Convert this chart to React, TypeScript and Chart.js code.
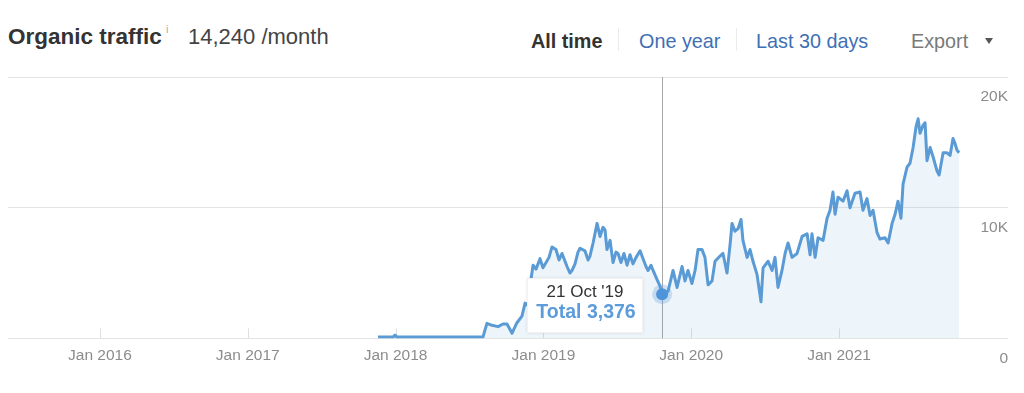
import React, { useEffect, useRef } from "react";
import { Chart, registerables } from "chart.js";

Chart.register(...registerables);

// ---- data (x = decimal year, y = monthly organic traffic) ----
const dateYears = [
  2017.881, 2017.982, 2017.996, 2018.009, 2018.591, 2018.618, 2018.652, 2018.693, 2018.727, 2018.754,
  2018.788, 2018.821, 2018.855, 2018.876, 2018.896, 2018.916, 2018.930, 2018.950, 2018.977, 2018.997,
  2019.018, 2019.038, 2019.058, 2019.085, 2019.106, 2019.126, 2019.160, 2019.180, 2019.194, 2019.214,
  2019.234, 2019.248, 2019.281, 2019.302, 2019.315, 2019.336, 2019.363, 2019.383, 2019.403, 2019.417,
  2019.430, 2019.451, 2019.471, 2019.491, 2019.505, 2019.525, 2019.545, 2019.566, 2019.586, 2019.606,
  2019.627, 2019.654, 2019.674, 2019.694, 2019.708, 2019.728, 2019.742, 2019.769, 2019.789, 2019.803,
  2019.843, 2019.877, 2019.904, 2019.938, 2019.958, 2019.978, 2020.005, 2020.026, 2020.046, 2020.073,
  2020.093, 2020.114, 2020.141, 2020.161, 2020.195, 2020.215, 2020.242, 2020.263, 2020.276, 2020.296,
  2020.317, 2020.337, 2020.350, 2020.378, 2020.398, 2020.418, 2020.445, 2020.472, 2020.486, 2020.520,
  2020.547, 2020.567, 2020.587, 2020.614, 2020.635, 2020.655, 2020.682, 2020.716, 2020.750, 2020.784,
  2020.804, 2020.817, 2020.838, 2020.858, 2020.892, 2020.919, 2020.939, 2020.959, 2020.973, 2020.993,
  2021.027, 2021.054, 2021.074, 2021.108, 2021.142, 2021.162, 2021.189, 2021.210, 2021.230, 2021.257,
  2021.277, 2021.311, 2021.332, 2021.359, 2021.379, 2021.399, 2021.419, 2021.433, 2021.460, 2021.480,
  2021.501, 2021.521, 2021.535, 2021.548, 2021.568, 2021.582, 2021.595, 2021.616, 2021.636, 2021.663,
  2021.677, 2021.704, 2021.731, 2021.751, 2021.771, 2021.785, 2021.798, 2021.812,
];

const trafficValues = [
  100, 100, 250, 100, 100, 1150, 1000, 900, 1100, 1100,
  400, 1200, 1700, 2700, 2500, 4500, 5600, 5300, 6100, 5400,
  5800, 6200, 7000, 6800, 6000, 6500, 5500, 5000, 5200, 5700,
  6600, 6900, 6700, 6000, 6300, 7300, 8800, 7800, 8500, 8300,
  6800, 7500, 5800, 6600, 6500, 5800, 6500, 5600, 6400, 5700,
  6200, 6700, 6100, 5500, 5200, 5600, 5200, 4500, 4000, 3376,
  3600, 5200, 3900, 5500, 4400, 5200, 4200, 5200, 6800, 6800,
  6200, 4100, 4400, 5900, 6300, 6500, 5000, 7200, 8800, 8200,
  8400, 9100, 7500, 6200, 6800, 5900, 4900, 2800, 5400, 5900,
  5200, 6200, 3900, 5200, 6500, 7300, 6200, 6500, 7800, 8000,
  6400, 8000, 6200, 7700, 7500, 9200, 9800, 11200, 9500, 10800,
  10500, 11300, 10000, 11100, 11200, 9800, 10700, 9400, 9800, 8100,
  7600, 7700, 7300, 8800, 9500, 10500, 9200, 11800, 13100, 13400,
  14600, 16200, 16800, 15700, 16300, 16500, 13600, 14600, 13900, 12800,
  12500, 14200, 14200, 14000, 15300, 14900, 14400, 14200,
];

const xAxisRange = [2015.378, 2022.143];
const xTickYears = [2016, 2017, 2018, 2019, 2020, 2021];
const xTickLabels = ["Jan 2016", "Jan 2017", "Jan 2018", "Jan 2019", "Jan 2020", "Jan 2021"];
const yTickValues = [0, 10000, 20000];
const yTickLabels = ["0", "10K", "20K"];

const tooltipYear = 2019.803;
const tooltipDateLabel = "21 Oct '19";
const tooltipValue = 3376;

const headerTitle = "Organic traffic";
const headerValue = "14,240 /month";
const navActive = "All time";
const navLinks = ["One year", "Last 30 days"];
const exportLabel = "Export";

const FONT = "'Liberation Sans', Arial, Helvetica, sans-serif";
const LINE_COLOR = "#5b9bd5";

const overlayPlugin = {
  id: "overlay",
  beforeDatasetsDraw(chart: any) {
    const { ctx, chartArea, scales } = chart;
    const xs = scales.x;
    ctx.save();
    ctx.lineWidth = 1;
    ctx.strokeStyle = "#e0e0e0";
    xTickYears.forEach((v) => {
      const px = Math.round(xs.getPixelForValue(v)) + 0.5;
      ctx.beginPath();
      ctx.moveTo(px, chartArea.bottom - 10);
      ctx.lineTo(px, chartArea.bottom);
      ctx.stroke();
    });
    const cx = Math.round(xs.getPixelForValue(tooltipYear)) + 0.5;
    ctx.strokeStyle = "#a8a8a8";
    ctx.beginPath();
    ctx.moveTo(cx, chartArea.top);
    ctx.lineTo(cx, chartArea.bottom);
    ctx.stroke();
    ctx.restore();
  },
  afterDatasetsDraw(chart: any) {
    const { ctx, scales } = chart;
    const px = scales.x.getPixelForValue(tooltipYear);
    const py = scales.y.getPixelForValue(tooltipValue);
    ctx.save();
    ctx.fillStyle = "rgba(91,155,213,0.28)";
    ctx.beginPath();
    ctx.arc(px, py, 10, 0, Math.PI * 2);
    ctx.fill();
    ctx.fillStyle = "#4d94db";
    ctx.beginPath();
    ctx.arc(px, py, 6, 0, Math.PI * 2);
    ctx.fill();

    const bw = 116;
    const bh = 55;
    const bx = Math.round(px - 19 - bw);
    const by = Math.round(py - 16);
    ctx.shadowColor = "rgba(0,0,0,0.10)";
    ctx.shadowBlur = 3;
    ctx.fillStyle = "#ffffff";
    ctx.fillRect(bx, by, bw, bh);
    ctx.shadowColor = "transparent";
    ctx.shadowBlur = 0;
    ctx.strokeStyle = "rgba(0,0,0,0.05)";
    ctx.strokeRect(bx + 0.5, by + 0.5, bw - 1, bh - 1);

    ctx.textAlign = "center";
    ctx.textBaseline = "middle";
    ctx.fillStyle = "#333333";
    ctx.font = `17px ${FONT}`;
    ctx.fillText(tooltipDateLabel, bx + bw / 2, by + 14);
    ctx.fillStyle = "#5d9cdb";
    ctx.font = `bold 19.5px ${FONT}`;
    ctx.fillText(`Total ${tooltipValue.toLocaleString("en-US")}`, bx + bw / 2 + 1, by + 35);
    ctx.restore();
  },
};

function TrafficChart() {
  const ref = useRef<HTMLCanvasElement | null>(null);
  useEffect(() => {
    if (!ref.current) return;
    const points = dateYears.map((x, i) => ({ x, y: trafficValues[i] }));
    const chart = new Chart(ref.current, {
      type: "line",
      data: {
        datasets: [
          {
            data: points,
            borderColor: LINE_COLOR,
            borderWidth: 3,
            backgroundColor: "rgba(91,155,213,0.11)",
            fill: "origin",
            pointRadius: 0,
            tension: 0,
            borderJoinStyle: "round",
          },
        ],
      },
      options: {
        animation: false,
        responsive: false,
        maintainAspectRatio: false,
        devicePixelRatio: 1,
        events: [],
        layout: { padding: { left: 8, right: 16, top: 17, bottom: 7 } },
        plugins: { legend: { display: false }, tooltip: { enabled: false } },
        scales: {
          x: {
            type: "linear",
            min: xAxisRange[0],
            max: xAxisRange[1],
            border: { display: false },
            grid: { display: false, drawTicks: false },
            afterBuildTicks: (scale: any) => {
              scale.ticks = xTickYears.map((v) => ({ value: v }));
            },
            ticks: {
              padding: 8,
              maxRotation: 0,
              autoSkip: false,
              color: "#8c8c8c",
              font: { family: FONT, size: 15.5 },
              callback: (_v: any, i: number) => xTickLabels[i],
            },
          },
          y: {
            type: "linear",
            position: "right",
            min: 0,
            max: 20000,
            border: { display: false },
            grid: { color: "#e4e4e4", lineWidth: 1, drawTicks: false },
            afterBuildTicks: (scale: any) => {
              scale.ticks = yTickValues.map((v) => ({ value: v }));
            },
            ticks: {
              mirror: true,
              padding: 0,
              labelOffset: 20,
              color: "#8c8c8c",
              font: { family: FONT, size: 15.5 },
              callback: (_v: any, i: number) => yTickLabels[i],
            },
          },
        },
      },
      plugins: [overlayPlugin],
    } as any);
    return () => chart.destroy();
  }, []);
  return (
    <canvas
      ref={ref}
      width={1024}
      height={320}
      style={{ position: "absolute", left: 0, top: 60, width: 1024, height: 320 }}
    />
  );
}

const txt = (extra: React.CSSProperties): React.CSSProperties => ({
  position: "absolute",
  whiteSpace: "nowrap",
  fontFamily: FONT,
  ...extra,
});

export default function App() {
  return (
    <div
      style={{
        position: "absolute",
        left: 0,
        top: 0,
        width: 1024,
        height: 393,
        background: "#ffffff",
        overflow: "hidden",
      }}
    >
      <span style={txt({ left: 8, top: 26, fontSize: 22.5, lineHeight: "22.5px", fontWeight: "bold", color: "#333" })}>
        {headerTitle}
      </span>
      <span style={txt({ left: 166, top: 24, fontSize: 11, lineHeight: "11px", color: "#aaa" })}>i</span>
      <span style={txt({ left: 188, top: 26.4, fontSize: 22, lineHeight: "22px", color: "#444" })}>{headerValue}</span>

      <span style={txt({ left: 531, top: 31, fontSize: 19.8, lineHeight: "20px", fontWeight: "bold", color: "#333" })}>
        {navActive}
      </span>
      <div style={{ position: "absolute", left: 618, top: 28, width: 1, height: 23, background: "#ebebeb" }} />
      <span style={txt({ left: 639, top: 31, fontSize: 19.8, lineHeight: "20px", color: "#3f70b5" })}>{navLinks[0]}</span>
      <div style={{ position: "absolute", left: 736, top: 28, width: 1, height: 23, background: "#ebebeb" }} />
      <span style={txt({ left: 756, top: 31, fontSize: 19.8, lineHeight: "20px", color: "#3f70b5" })}>{navLinks[1]}</span>
      <span style={txt({ left: 911, top: 31, fontSize: 19.8, lineHeight: "20px", color: "#7a7a7a" })}>{exportLabel}</span>
      <div
        style={{
          position: "absolute",
          left: 985,
          top: 38,
          width: 0,
          height: 0,
          borderLeft: "4px solid transparent",
          borderRight: "4px solid transparent",
          borderTop: "6px solid #555",
        }}
      />
      <TrafficChart />
    </div>
  );
}
